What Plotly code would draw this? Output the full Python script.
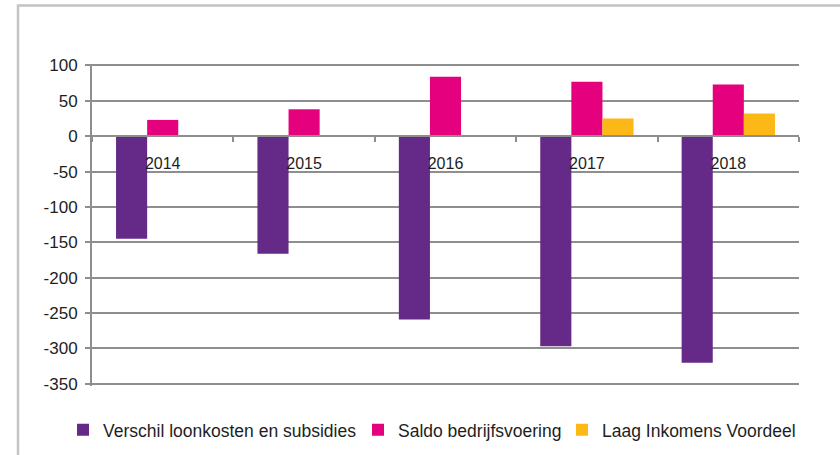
import plotly.graph_objects as go

# Jaren en reeksen (bedragen)
years = ["2014", "2015", "2016", "2017", "2018"]
loonkosten = [-145, -166, -259, -297, -320]
bedrijfsvoering = [23, 38, 84, 77, 73]
liv = [None, None, None, 25, 32]

series_names = [
    "Verschil loonkosten en subsidies",
    "Saldo bedrijfsvoering",
    "Laag Inkomens Voordeel",
]
series_colors = ["#652a87", "#e5007d", "#fbb817"]
y_ticks = [100, 50, 0, -50, -100, -150, -200, -250, -300, -350]
y_range = [-353, 102]

FONT = "Liberation Sans, Arial, sans-serif"
GRID = "#8e8e8e"

# plot area in pixels
L, R, T, B = 92, 41, 63.6, 68.9
W = 840 - L - R
H = 455 - T - B

legend_ids = ["legend", "legend2", "legend3"]
legend_left_px = [63, 358, 562]

fig = go.Figure()
for name, vals, col, lid in zip(series_names, [loonkosten, bedrijfsvoering, liv],
                                series_colors, legend_ids):
    fig.add_trace(go.Bar(
        x=years, y=vals, name=name, legend=lid,
        marker=dict(color=col, line=dict(width=0)),
    ))

legend_common = dict(
    orientation="h", xanchor="left", y=(455 - B - 430) / H, yanchor="middle",
    font=dict(size=17.5, color="#1e1e1e", family=FONT), itemwidth=30,
    bgcolor="rgba(0,0,0,0)", borderwidth=0,
)
legends = {lid: dict(legend_common, x=(px - L) / W)
           for lid, px in zip(legend_ids, legend_left_px)}

fig.update_layout(
    width=840, height=455,
    margin=dict(l=L, r=R, t=T, b=B, autoexpand=False),
    paper_bgcolor="white", plot_bgcolor="white",
    barmode="group", bargap=0.34, bargroupgap=0,
    font=dict(family=FONT, color="#1e1e1e", size=17),
    showlegend=True,
    **legends,
    xaxis=dict(
        type="category", anchor="free",
        position=(0 - y_range[0]) / (y_range[1] - y_range[0]),
        showline=True, linecolor=GRID, linewidth=2,
        ticks="outside", tickson="boundaries", ticklen=5, tickcolor=GRID, tickwidth=1.5,
        showgrid=False, tickfont=dict(size=16, color="#1e1e1e"),
        ticklabelstandoff=13,
    ),
    yaxis=dict(
        range=y_range, tickvals=y_ticks, ticktext=[str(v) for v in y_ticks],
        showgrid=True, gridcolor=GRID, gridwidth=2,
        zeroline=False, showline=True, linecolor=GRID, linewidth=2,
        ticks="outside", ticklen=5, tickcolor=GRID, tickwidth=1.5,
        tickfont=dict(size=17, color="#1e1e1e"), ticklabelstandoff=4,
    ),
    shapes=[dict(
        type="rect", xref="paper", yref="paper",
        x0=(18 - L) / W, x1=1.07, y0=-0.3, y1=1 + (T - 5) / H,
        line=dict(color="#c4c4c4", width=2.5), fillcolor="rgba(0,0,0,0)", layer="below",
    )],
)

fig.write_html("out.html")
